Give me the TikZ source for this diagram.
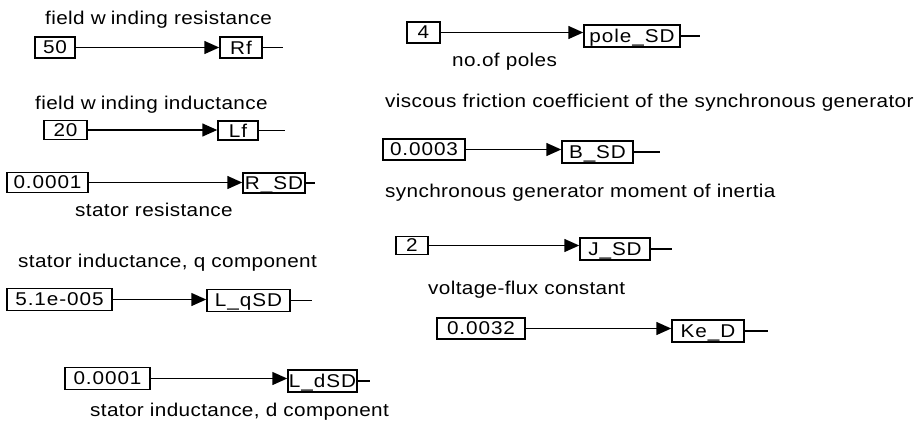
\documentclass[tikz,border=0pt]{standalone}
\usepackage{fontspec}
\setmainfont{Liberation Sans}[FakeStretch=1.12, LetterSpace=2]
\usetikzlibrary{arrows.meta}
\tikzset{
  every node/.style={font=\fontsize{18.5}{20}\selectfont},
  blk/.style={draw, line width=1.5pt, inner sep=0pt, text depth=0pt,
    font=\fontsize{18.5}{20}\selectfont\addfontfeatures{LetterSpace=5}},
  lbl/.style={anchor=west, inner sep=0pt},
  sig/.style={line width=1.5pt, -{Triangle[length=15pt,width=13pt]}},
  stub/.style={line width=1.5pt},
}
\newcommand{\blkpair}[9]{%
  % #1 name, #2 value, #3 centre, #4 width, #5 height,
  % #6 gain text, #7 centre, #8 width, #9 height
  \node[blk, minimum width=#4pt, minimum height=#5pt] (#1c) at (#3) {#2};
  \node[blk, minimum width=#8pt, minimum height=#9pt] (#1g) at (#7) {#6};
}
\begin{document}
\begin{tikzpicture}[x=1pt, y=-1pt]
  \useasboundingbox (0,0) rectangle (918,429);

  % left column
  \node[lbl] (t1) at (45,20) {field w\kern5pt inding resistance};
  \blkpair{a}{50}{55,47.5}{40}{21}{Rf}{241,47.5}{42}{21}
  \coordinate (ao) at (283,47.5);

  \node[lbl] (t2) at (35,105) {field w\kern5pt inding inductance};
  \blkpair{b}{20}{65.5,130}{43}{19}{Lf}{238,130.5}{40}{19}
  \coordinate (bo) at (285,130.5);

  \blkpair{c}{0.0001}{47.5,182.5}{81}{20}{R\_SD}{274,183}{62}{20}
  \coordinate (co) at (315,183);
  \node[lbl] (t3) at (75,210) {stator resistance};

  \node[lbl] (t4) at (18,263) {stator inductance, q component};
  \blkpair{d}{5.1e-005}{59.5,299.5}{105}{22}{L\_qSD}{248.5,300.5}{83}{22}
  \coordinate (do) at (312,300.5);

  \blkpair{e}{0.0001}{107.5,378.5}{85}{22}{L\_dSD}{322.5,381}{69}{22}
  \coordinate (eo) at (370,381);
  \node[lbl] (t5) at (90,412) {stator inductance, d component};

  % right column
  \blkpair{f}{4}{423.5,32.5}{33}{21}{pole\_SD}{632,36}{96}{22}
  \coordinate (fo) at (700,36);
  \node[lbl] (t6) at (452,62) {no.of poles};

  \node[lbl] (t7) at (385,103) {viscous friction coefficient of the synchronous generator};
  \blkpair{g}{0.0003}{424,149.5}{82}{21}{B\_SD}{597.5,152}{71}{22}
  \coordinate (go) at (660,152);

  \node[lbl] (t8) at (385,193) {synchronous generator moment of inertia};
  \blkpair{h}{2}{412,245.5}{32}{18}{J\_SD}{615,249}{70}{22}
  \coordinate (ho) at (672,249);

  \node[lbl] (t9) at (428,290) {voltage-flux constant};
  \blkpair{i}{0.0032}{481,328.5}{88}{21}{Ke\_D}{708,331}{72}{22}
  \coordinate (io) at (768,331);

  % signal lines and output stubs
  \foreach \n in {a,b,c,d,e,f,g,h,i}{
    \draw[sig] (\n c.east) -- (\n c.east -| \n g.west);
    \draw[stub] (\n g.east) -- (\n o);
  }
\end{tikzpicture}
\end{document}
